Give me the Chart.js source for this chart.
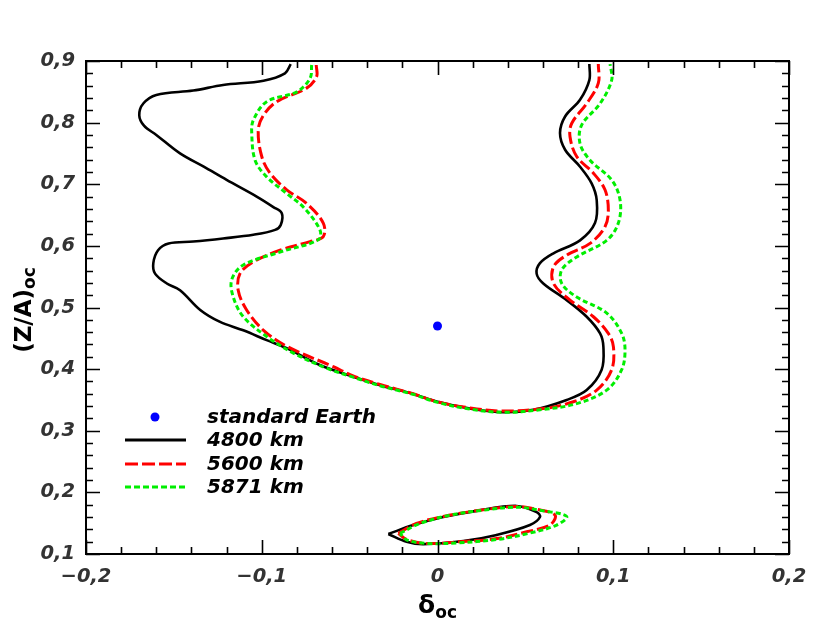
<!DOCTYPE html>
<html>
<head>
<meta charset="utf-8">
<script src="https://cdn.jsdelivr.net/npm/chart.js@4"></script>
<style>
  html, body { margin: 0; padding: 0; background: #fff; }
  #wrap { width: 830px; height: 641px; }
</style>
</head>
<body>
<div id="wrap"><canvas id="zaChart" width="830" height="641"></canvas></div>
<script>

// contour lines, [delta_oc, (Z/A)_oc]
var main4800 = [[-0.0835,0.895],[-0.0868,0.880],[-0.099,0.868],[-0.122,0.861],[-0.139,0.852],[-0.160,0.845],[-0.1674,0.831],[-0.1697,0.812],[-0.167,0.795],[-0.160,0.780],[-0.1465,0.750],[-0.133,0.7285],[-0.120,0.707],[-0.1029,0.680],[-0.0934,0.663],[-0.0886,0.653],[-0.0892,0.634],[-0.0924,0.626],[-0.1048,0.618],[-0.122,0.612],[-0.139,0.607],[-0.153,0.604],[-0.159,0.593],[-0.1617,0.572],[-0.1607,0.555],[-0.154,0.539],[-0.1465,0.528],[-0.135,0.496],[-0.124,0.477],[-0.1105,0.463],[-0.0972,0.447],[-0.0858,0.434],[-0.0669,0.4066],[-0.048,0.3876],[-0.0327,0.374],[-0.0138,0.3596],[0.0,0.347],[0.0185,0.336],[0.0374,0.330],[0.0545,0.334],[0.0735,0.350],[0.0849,0.366],[0.0934,0.399],[0.0944,0.436],[0.0925,0.458],[0.0849,0.485],[0.0735,0.512],[0.0602,0.539],[0.0564,0.555],[0.0583,0.572],[0.066,0.588],[0.0811,0.609],[0.0896,0.637],[0.0906,0.674],[0.0877,0.7015],[0.0811,0.7285],[0.0726,0.756],[0.0697,0.783],[0.0726,0.810],[0.0811,0.837],[0.0864,0.869],[0.0864,0.895]];
var loop4800 = [[-0.028,0.1324],[-0.0138,0.147],[0.0033,0.160],[0.0222,0.170],[0.045,0.178],[0.0564,0.168],[0.0583,0.160],[0.0526,0.147],[0.0337,0.131],[0.0147,0.121],[-0.008,0.116],[-0.0176,0.120],[-0.028,0.1324]];

var main5600 = [[-0.069,0.8935],[-0.0688,0.8745],[-0.0745,0.856],[-0.0915,0.834],[-0.099,0.812],[-0.102,0.788],[-0.100,0.745],[-0.0953,0.718],[-0.0858,0.691],[-0.0745,0.669],[-0.065,0.637],[-0.065,0.615],[-0.0725,0.607],[-0.0896,0.593],[-0.1048,0.574],[-0.1124,0.555],[-0.1134,0.528],[-0.1086,0.496],[-0.099,0.463],[-0.0858,0.437],[-0.0593,0.404],[-0.048,0.389],[-0.0327,0.375],[-0.0138,0.360],[0.0,0.347],[0.0185,0.337],[0.0374,0.332],[0.0602,0.336],[0.0773,0.347],[0.0906,0.366],[0.0991,0.399],[0.1001,0.436],[0.0972,0.458],[0.0887,0.485],[0.0754,0.512],[0.066,0.539],[0.066,0.566],[0.0735,0.585],[0.0868,0.604],[0.0953,0.631],[0.0972,0.658],[0.0953,0.691],[0.0887,0.718],[0.0792,0.745],[0.0754,0.777],[0.0764,0.799],[0.0849,0.831],[0.0915,0.864],[0.0915,0.895]];
var loop5600 = [[-0.0223,0.1335],[-0.012,0.1495],[0.0033,0.161],[0.0242,0.171],[0.045,0.177],[0.0564,0.1725],[0.0669,0.163],[0.064,0.147],[0.0507,0.136],[0.0337,0.125],[0.0128,0.120],[-0.0061,0.117],[-0.0176,0.1235],[-0.0223,0.1335]];

var main5871 = [[-0.0716,0.8935],[-0.0725,0.872],[-0.080,0.850],[-0.0972,0.834],[-0.1048,0.804],[-0.1057,0.783],[-0.1038,0.739],[-0.0972,0.712],[-0.0858,0.685],[-0.076,0.662],[-0.0669,0.626],[-0.0678,0.610],[-0.0896,0.590],[-0.1105,0.569],[-0.1171,0.545],[-0.1162,0.517],[-0.1105,0.485],[-0.0972,0.453],[-0.082,0.426],[-0.0631,0.4015],[-0.048,0.387],[-0.0327,0.373],[-0.0138,0.359],[0.0,0.346],[0.0185,0.335],[0.0374,0.330],[0.0583,0.334],[0.0792,0.344],[0.0963,0.366],[0.1048,0.399],[0.1067,0.431],[0.1048,0.458],[0.0963,0.491],[0.0792,0.517],[0.0707,0.539],[0.0707,0.561],[0.0792,0.582],[0.0963,0.609],[0.1029,0.637],[0.1039,0.674],[0.0991,0.707],[0.0868,0.739],[0.0811,0.766],[0.082,0.796],[0.0925,0.831],[0.0991,0.869],[0.0982,0.895]];
var loop5871 = [[-0.0213,0.1335],[-0.010,0.1495],[0.0071,0.163],[0.026,0.171],[0.045,0.176],[0.0602,0.170],[0.0735,0.161],[0.0678,0.147],[0.0526,0.134],[0.0337,0.1235],[0.0109,0.118],[-0.0061,0.117],[-0.0176,0.123],[-0.0213,0.1335]];

var standardEarth = [[0.0, 0.47]];

var legendLabels = ['standard Earth', '4800 km', '5600 km', '5871 km'];
var xRange = [-0.2, 0.2];
var yRange = [0.1, 0.9];

function pts(arr) {
    return arr.map(function (p) { return {x: p[0], y: p[1]}; });
}

function tickLabel(v) {
    var s = (Math.round(v * 10) / 10).toString();
    return s.replace('.', ',').replace('-', '\u2212');
}

var FONT = '"DejaVu Sans", sans-serif';

function line(data, color, dash, width) {
    return {
        data: pts(data),
        showLine: true,
        borderColor: color,
        borderWidth: width,
        borderDash: dash,
        pointRadius: 0,
        tension: 0.35,
        fill: false
    };
}

// inward ticks on all four sides, frame, axis titles, legend
var decorations = {
    id: 'decorations',
    afterDraw: function (chart) {
        var c = chart.ctx, a = chart.chartArea;
        var xs = chart.scales.x, ys = chart.scales.y;
        c.save();
        c.strokeStyle = '#000';
        c.lineWidth = 1.6;
        c.beginPath();
        var i, v, p, len;
        for (i = 0; i <= 20; i++) {
            v = xRange[0] + i * 0.02;
            p = Math.round(xs.getPixelForValue(v)) + 0.5;
            len = (i % 5 === 0) ? 14 : 7;
            c.moveTo(p, a.bottom); c.lineTo(p, a.bottom - len);
            c.moveTo(p, a.top); c.lineTo(p, a.top + len);
        }
        for (i = 0; i <= 40; i++) {
            v = yRange[0] + i * 0.02;
            p = Math.round(ys.getPixelForValue(v)) + 0.5;
            len = (i % 5 === 0) ? 14 : 7;
            c.moveTo(a.left, p); c.lineTo(a.left + len, p);
            c.moveTo(a.right, p); c.lineTo(a.right - len, p);
        }
        c.stroke();
        c.lineWidth = 2;
        c.strokeRect(a.left, a.top, a.right - a.left, a.bottom - a.top);

        // x title: delta_oc
        c.fillStyle = '#000';
        c.textBaseline = 'alphabetic';
        c.font = 'bold 25px ' + FONT;
        var w1 = c.measureText('\u03b4').width;
        c.font = 'bold 17px ' + FONT;
        var w2 = c.measureText('oc').width;
        var x0 = xs.getPixelForValue(0) - (w1 + w2) / 2;
        c.font = 'bold 25px ' + FONT;
        c.fillText('\u03b4', x0, 613);
        c.font = 'bold 17px ' + FONT;
        c.fillText('oc', x0 + w1, 618);

        // y title: (Z/A)_oc
        c.translate(31, 310);
        c.rotate(-Math.PI / 2);
        c.font = 'bold 23px ' + FONT;
        w1 = c.measureText('(Z/A)').width;
        c.font = 'bold 17px ' + FONT;
        w2 = c.measureText('oc').width;
        x0 = -(w1 + w2) / 2;
        c.font = 'bold 23px ' + FONT;
        c.fillText('(Z/A)', x0, 0);
        c.font = 'bold 17px ' + FONT;
        c.fillText('oc', x0 + w1, 4);
        c.setTransform(1, 0, 0, 1, 0, 0);

        // legend
        var rows = [417, 440, 464, 487];
        var styles = [null, ['#000', []], ['#ff0000', [13, 4]], ['#00ee00', [6, 3]]];
        c.fillStyle = '#0000ff';
        c.beginPath();
        c.arc(155, rows[0], 4.5, 0, 2 * Math.PI);
        c.fill();
        c.lineWidth = 3;
        for (i = 1; i < 4; i++) {
            c.strokeStyle = styles[i][0];
            c.setLineDash(styles[i][1]);
            c.beginPath();
            c.moveTo(125, rows[i]); c.lineTo(186, rows[i]);
            c.stroke();
        }
        c.setLineDash([]);
        c.fillStyle = '#000';
        c.font = 'italic bold 20px ' + FONT;
        c.textBaseline = 'middle';
        for (i = 0; i < 4; i++) {
            c.fillText(legendLabels[i], 207, rows[i] + 1);
        }
        c.restore();
    }
};

var ctx = document.getElementById('zaChart').getContext('2d');
var zaChart = new Chart(ctx, {
    type: 'scatter',
    data: {
        datasets: [
            line(main5871, '#00ee00', [5, 3], 3),
            line(loop5871, '#00ee00', [5, 3], 3),
            line(main5600, '#ff0000', [12, 4], 3),
            line(loop5600, '#ff0000', [12, 4], 3),
            line(main4800, '#000000', [], 2.6),
            line(loop4800, '#000000', [], 2.6),
            {
                data: pts(standardEarth),
                pointRadius: 4.5,
                pointBackgroundColor: '#0000ff',
                pointBorderWidth: 0
            }
        ]
    },
    options: {
        responsive: false,
        animation: false,
        layout: { padding: { left: 0, top: 61, right: 41, bottom: 0 } },
        plugins: {
            legend: { display: false },
            tooltip: { enabled: false }
        },
        scales: {
            x: {
                type: 'linear',
                min: xRange[0], max: xRange[1],
                grid: { display: false, drawTicks: false },
                border: { display: false },
                afterFit: function (s) { s.height = 87; },
                ticks: {
                    stepSize: 0.1,
                    padding: 11,
                    color: '#333',
                    font: { family: FONT, size: 19.5, style: 'italic', weight: 'bold' },
                    maxRotation: 0,
                    callback: function (v) { return tickLabel(v); }
                }
            },
            y: {
                type: 'linear',
                min: yRange[0], max: yRange[1],
                grid: { display: false, drawTicks: false },
                border: { display: false },
                afterFit: function (s) { s.width = 86; },
                ticks: {
                    stepSize: 0.1,
                    padding: 11,
                    color: '#333',
                    font: { family: FONT, size: 19.5, style: 'italic', weight: 'bold' },
                    callback: function (v) { return tickLabel(v); }
                }
            }
        }
    },
    plugins: [decorations]
});

</script>
</body>
</html>
